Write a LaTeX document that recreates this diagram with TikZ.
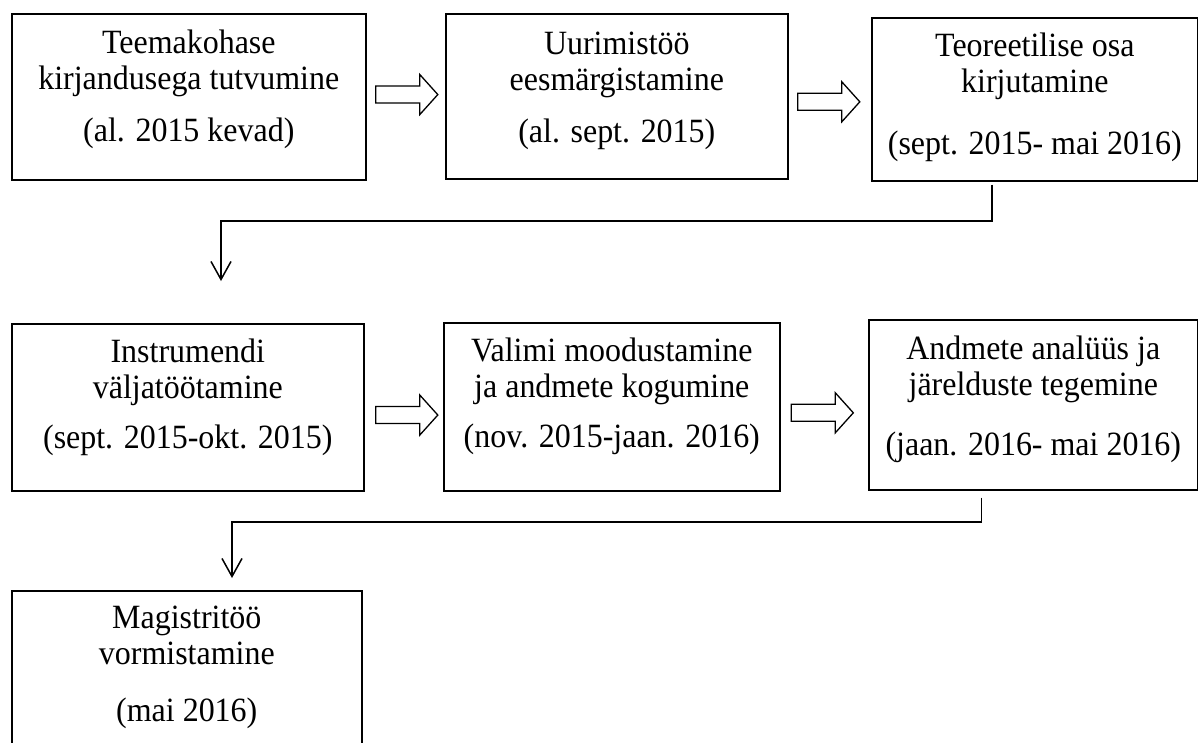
\documentclass[tikz,border=0pt]{standalone}
\usepackage{fontspec}
\setmainfont{Liberation Serif}
\newfontfamily\boxfont[FakeStretch=0.94]{Liberation Serif}
\usetikzlibrary{arrows.meta,calc}
\newcommand{\blockarr}[1]{\draw[barrow] #1 ++(-31,-8.5) -- ++(44,0) -- ++(0,-11.5) -- ++(18,20) -- ++(-18,20) -- ++(0,-11.5) -- ++(-44,0) -- cycle;}
\begin{document}
\begin{tikzpicture}[x=1pt,y=-1pt,
  box/.style={draw=black, line width=1.6pt, inner sep=0pt, anchor=north west},
  txt/.style={align=center, inner sep=0pt, anchor=north, font=\boxfont\fontsize{34}{36}\selectfont},
  barrow/.style={draw=black, line width=1.3pt, line join=miter},
  conn/.style={draw=black, line width=1.5pt, -{Straight Barb[length=18pt,width=20pt,line width=1.5pt]}}]
\useasboundingbox (0,0) rectangle (1198,742);
% boxes
\node[box, minimum width=354, minimum height=166] (b1) at (11,13) {};
\node[box, minimum width=342, minimum height=165] (b2) at (445,13) {};
\node[box, minimum width=326, minimum height=163] (b3) at (871,17) {};
\node[box, minimum width=352, minimum height=167] (b4) at (11,323) {};
\node[box, minimum width=336, minimum height=168] (b5) at (443,322) {};
\node[box, minimum width=329, minimum height=170] (b6) at (868,319) {};
\node[box, minimum width=350, minimum height=170] (b7) at (11,590) {};
% texts
\node[txt] (t1) at ([yshift=-10pt]b1.north) {\rule{0pt}{30pt}Teemakohase\\kirjandusega tutvumine\\[16pt](al. 2015 kevad)};
\node[txt] (t2) at ([yshift=-11pt]b2.north) {\rule{0pt}{30pt}Uurimistöö\\eesmärgistamine\\[16pt](al. sept. 2015)};
\node[txt] (t3) at ([yshift=-9pt]b3.north) {\rule{0pt}{30pt}Teoreetilise osa\\kirjutamine\\[26pt](sept. 2015- mai 2016)};
\node[txt] (t4) at ([yshift=-9pt]b4.north) {\rule{0pt}{30pt}Instrumendi\\väljatöötamine\\[14pt](sept. 2015-okt. 2015)};
\node[txt] (t5) at ([yshift=-9pt]b5.north) {\rule{0pt}{30pt}Valimi moodustamine\\ja andmete kogumine\\[14pt](nov. 2015-jaan. 2016)};
\node[txt] (t6) at ([yshift=-10pt]b6.north) {\rule{0pt}{30pt}Andmete analüüs ja\\järelduste tegemine\\[24pt](jaan. 2016- mai 2016)};
\node[txt] (t7) at ([yshift=-8pt]b7.north) {\rule{0pt}{30pt}Magistritöö\\vormistamine\\[21pt](mai 2016)};
% block arrows
\blockarr{($(b1.east)!.5!(b2.west)+(1,-2)$)}
\blockarr{($(b2.east)!.5!(b3.west)+(-1,4)$)}
\blockarr{($(b4.east)!.5!(b5.west)+(3,8)$)}
\blockarr{($(b5.east)!.5!(b6.west)+(-2,7)$)}
% down connectors
\coordinate (k1) at ($(b4.north west)+(210,-102)$);
\coordinate (e1) at ($(b4.north west)+(210,-42)$);
\draw[conn] ($(b3.south)+(-43,3)$) |- (k1) -- (e1);
\coordinate (k2) at ($(b7.north west)+(221,-68)$);
\coordinate (e2) at ($(b7.north west)+(221,-12)$);
\draw[conn] ($(b6.south)+(-52,7)$) |- (k2) -- (e2);
\end{tikzpicture}
\end{document}
